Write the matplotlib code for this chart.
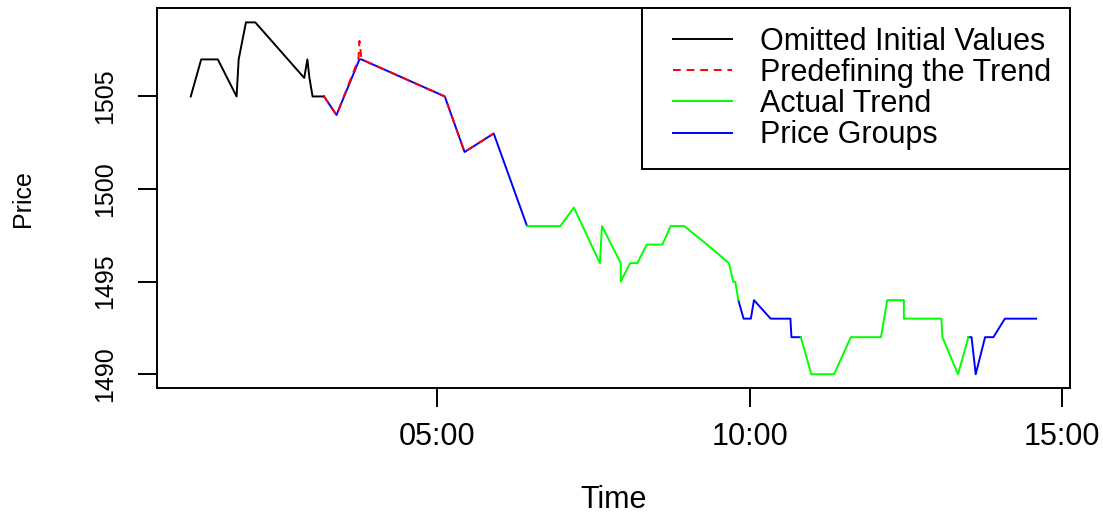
import matplotlib
matplotlib.use('Agg')
import matplotlib.pyplot as plt
from matplotlib.lines import Line2D
from matplotlib.legend_handler import HandlerLine2D
from matplotlib.ticker import FuncFormatter

plt.rcParams['font.family'] = ['Liberation Sans', 'DejaVu Sans']

# times in seconds, prices
omitted_t = [63, 73, 89, 107, 109, 116, 125, 172, 175, 177, 180, 191]
omitted_p = [1505, 1507, 1507, 1505, 1507, 1509, 1509, 1506, 1507, 1506, 1505, 1505]

predef_t = [191, 203, 224, 225, 227, 307, 326, 354]
predef_p = [1505, 1504, 1507, 1508, 1507, 1505, 1502, 1503]

trend1_t = [386, 418, 431, 456, 458, 476, 476, 485, 492, 501, 516, 524, 537, 559, 580, 584, 586, 589]
trend1_p = [1498, 1498, 1499, 1496, 1498, 1496, 1495, 1496, 1496, 1497, 1497, 1498, 1498, 1497, 1496, 1495, 1495, 1494]

trend2_t = [649, 659, 681, 697, 726, 732, 748, 748, 784, 785, 800, 810]
trend2_p = [1492, 1490, 1490, 1492, 1492, 1494, 1494, 1493, 1493, 1492, 1490, 1492]

group1_t = [191, 203, 225, 227, 307, 326, 354, 386]
group1_p = [1505, 1504, 1507, 1507, 1505, 1502, 1503, 1498]
group2_t = [589, 594, 601, 604, 620, 639, 640, 649]
group2_p = [1494, 1493, 1493, 1494, 1493, 1493, 1492, 1492]
group3_t = [810, 813, 817, 826, 834, 845, 875]
group3_p = [1492, 1492, 1490, 1492, 1492, 1493, 1493]

legend_labels = ['Omitted Initial Values', 'Predefining the Trend', 'Actual Trend', 'Price Groups']
x_ticks = [300, 600, 900]
y_ticks = [1490, 1495, 1500, 1505]

fig = plt.figure(figsize=(11.03, 5.16), dpi=100)
ax = fig.add_axes([0.1423, 0.2475, 0.8277, 0.7364])

lw = 1.4
ax.plot(omitted_t, omitted_p, color='black', lw=lw)
for t, p in [(group1_t, group1_p), (group2_t, group2_p), (group3_t, group3_p)]:
    ax.plot(t, p, color='#0000FF', lw=lw)
for t, p in [(trend1_t, trend1_p), (trend2_t, trend2_p)]:
    ax.plot(t, p, color='#00FF00', lw=lw)
ax.plot(predef_t, predef_p, color='#FF0000', lw=lw, linestyle=(0, (4, 3)))

ax.margins(0.04)

ax.set_xticks(x_ticks)
ax.xaxis.set_major_formatter(FuncFormatter(lambda v, pos: '%02d:%02d' % (v // 60, v % 60)))
ax.set_yticks(y_ticks)
ax.tick_params(axis='x', length=13.5, width=1.4, labelsize=22, pad=11)
ax.tick_params(axis='y', length=13.5, width=1.4, labelsize=18, pad=15)
plt.setp(ax.get_yticklabels(), rotation=90, va='center')
for s in ax.spines.values():
    s.set_linewidth(1.4)

ax.set_xlabel('Time', fontsize=22, va='center')
ax.xaxis.set_label_coords(0.5, -0.294)
ax.set_ylabel('Price', fontsize=18, va='center')
ax.yaxis.set_label_coords(-0.147, 0.5)

handles = [Line2D([], [], color='black', lw=lw),
           Line2D([], [], color='#FF0000', lw=lw, linestyle=(0, (4, 3))),
           Line2D([], [], color='#00FF00', lw=lw),
           Line2D([], [], color='#0000FF', lw=lw)]
leg = ax.legend(handles, legend_labels, loc='upper right', bbox_to_anchor=(1, 1),
                borderaxespad=0, fontsize=22, fancybox=False, framealpha=1,
                edgecolor='black', handlelength=2.35, handletextpad=0.92,
                labelspacing=0.04, borderpad=0.6,
                handler_map={Line2D: HandlerLine2D(xpad=0.4)})
leg.get_frame().set_linewidth(1.4)

fig.savefig('out.png', dpi=100)
